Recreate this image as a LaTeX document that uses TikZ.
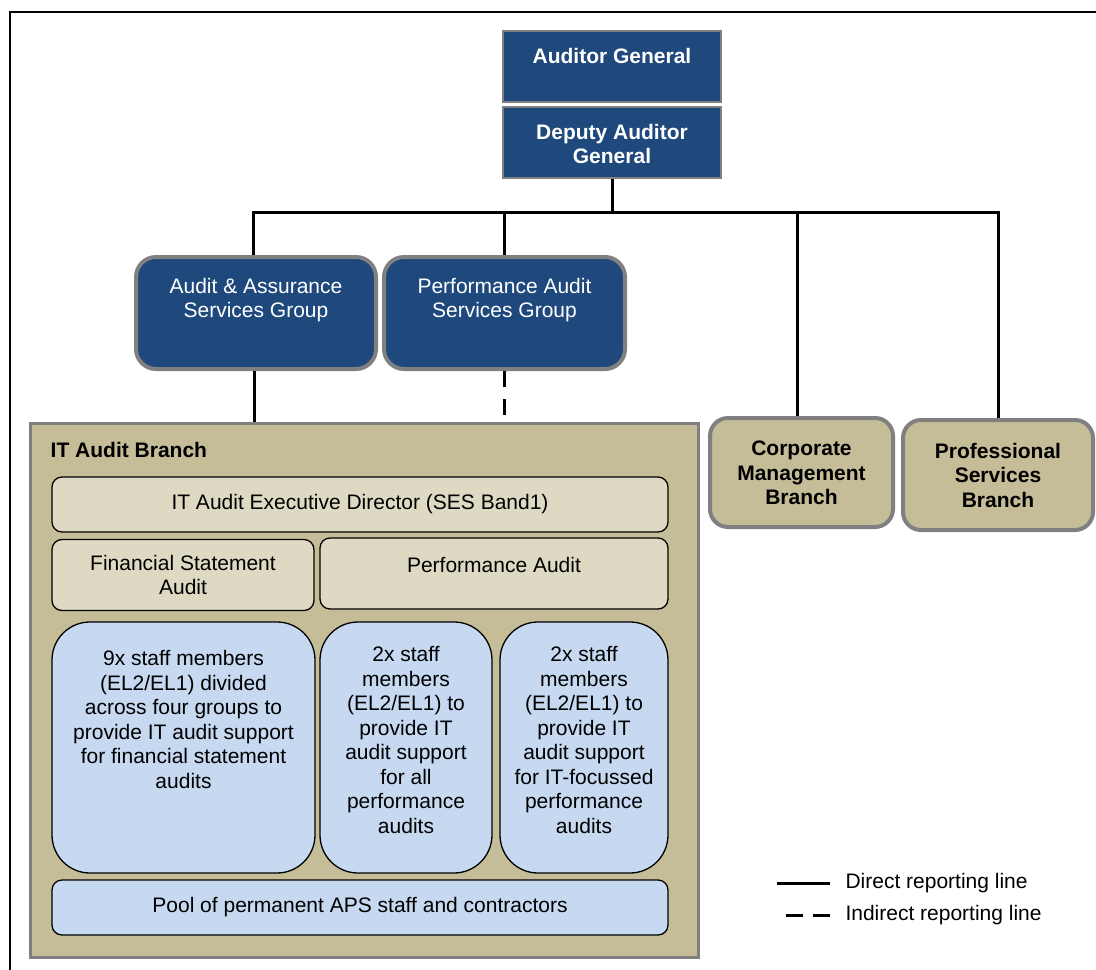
\documentclass[tikz,border=0pt]{standalone}
\usepackage{fontspec}
\setmainfont{Liberation Sans}
\usepackage{tikz}
\usetikzlibrary{positioning}

\definecolor{agblue}{RGB}{31,73,125}
\definecolor{edgegray}{RGB}{128,128,128}
\definecolor{branchtan}{RGB}{196,189,151}
\definecolor{paletan}{RGB}{221,217,195}
\definecolor{paleblue}{RGB}{198,217,241}

\tikzset{
  bfont/.style={font=\fontsize{21}{24.5}\selectfont\bfseries},
  toplbl/.style={anchor=north, inner sep=0pt, align=center, draw=none, fill=none},
  topbox/.style={draw=edgegray, line width=2pt, fill=agblue, minimum width=218pt, minimum height=71pt, inner sep=0pt},
  grpbox/.style={draw=edgegray, line width=4pt, fill=agblue, rounded corners=20pt, minimum height=112pt, inner sep=0pt},
  brbox/.style={draw=edgegray, line width=4pt, fill=branchtan, rounded corners=18pt, inner sep=0pt},
  unitbox/.style={draw=black, line width=1.3pt, fill=paletan, rounded corners=10pt, inner sep=0pt, align=center},
  staffbox/.style={draw=black, line width=1.3pt, fill=paleblue, rounded corners=38pt, minimum height=251pt, inner sep=0pt},
  direct/.style={line width=3pt},
  indirect/.style={line width=3pt, dash pattern=on 16pt off 12pt},
}

\begin{document}
\begin{tikzpicture}[x=1pt, y=-1pt, font=\fontsize{21}{24.5}\selectfont]
    \useasboundingbox (0,0) rectangle (1096,970);
    \draw[line width=2pt] (10,970) -- (10,12) -- (1096,12);

    % top of the office
    \node[topbox, label={[toplbl, bfont, text=white, yshift=-18pt]north:Auditor General}] (ag) at (612,66.5) {};
    \node[topbox, label={[toplbl, bfont, text=white, yshift=-18pt]north:Deputy Auditor\\General}] (dag) at (612,142.5) {};

    % groups and branches
    \node[grpbox, minimum width=240pt, label={[toplbl, text=white, yshift=-23pt]north:Audit \& Assurance\\Services Group}] (aasg) at (256,313) {};
    \node[grpbox, minimum width=241pt, label={[toplbl, text=white, yshift=-23pt]north:Performance Audit\\Services Group}] (pasg) at (504.5,313) {};
    \node[brbox, minimum width=183pt, minimum height=109pt, label={[toplbl, bfont, yshift=-25pt]north:Corporate\\Management\\Branch}] (cmb) at (801.5,472.5) {};
    \node[brbox, minimum width=190pt, minimum height=110pt, label={[toplbl, bfont, yshift=-25pt]north:Professional\\Services\\Branch}] (psb) at (998,475) {};

    % IT Audit Branch
    \node[draw=edgegray, line width=3pt, fill=branchtan, minimum width=668pt, minimum height=534pt, inner sep=0pt,
      label={[toplbl, bfont, anchor=north west, xshift=22pt, yshift=-21pt]north west:IT Audit Branch}] (itb) at (364,690) {};
    \node[unitbox, minimum width=616pt, minimum height=55pt] (exd) at (360,504.5) {IT Audit Executive Director (SES Band1)};
    \node[unitbox, minimum width=262pt, minimum height=71pt] (fsa) at (183,575) {Financial Statement\\Audit};
    \node[unitbox, minimum width=348pt, minimum height=71pt, label={[toplbl, yshift=-20pt]north:Performance Audit}] (pa) at (494,573.5) {};
    \node[staffbox, minimum width=263pt, label={[toplbl, yshift=-29pt]north:9x staff members\\(EL2/EL1) divided\\across four groups to\\provide IT audit support\\for financial statement\\audits}] (st1) at (183.5,747.5) {};
    \node[staffbox, minimum width=172pt, label={[toplbl, yshift=-25pt]north:2x staff\\members\\(EL2/EL1) to\\provide IT\\audit support\\for all\\performance\\audits}] (st2) at (406,747.5) {};
    \node[staffbox, minimum width=168pt, label={[toplbl, yshift=-25pt]north:2x staff\\members\\(EL2/EL1) to\\provide IT\\audit support\\for IT-focussed\\performance\\audits}] (st3) at (584,747.5) {};
    \node[unitbox, fill=paleblue, minimum width=616pt, minimum height=55pt] (pool) at (360,907.5) {Pool of permanent APS staff and contractors};

    % reporting lines
    \coordinate (bar) at (612,212);
    \draw[direct] (dag.south) -- (dag.south |- bar);
    \draw[direct] ([xshift=-3pt]aasg.north) -- ([xshift=-3pt]aasg.north |- bar) -- (psb.north |- bar) -- (psb.north);
    \draw[direct] (pasg.north |- bar) -- (pasg.north);
    \draw[direct] ([xshift=-4pt]cmb.north |- bar) -- ([xshift=-4pt]cmb.north);
    \draw[direct] ([xshift=-2pt]aasg.south) -- ([xshift=-2pt]aasg.south |- itb.north);
    \draw[indirect] (pasg.south) -- (pasg.south |- itb.north);

    % legend
    \node[anchor=west] (ldir) at (842,883) {Direct reporting line};
    \node[anchor=west] (lind) at (842,915) {Indirect reporting line};
    \draw[direct] ([xshift=-12pt]ldir.west) -- ++(-53,0);
    \draw[line width=3pt, dash pattern=on 17pt off 10pt] ([xshift=-12pt]lind.west) -- ++(-45,0);
\end{tikzpicture}
\end{document}
